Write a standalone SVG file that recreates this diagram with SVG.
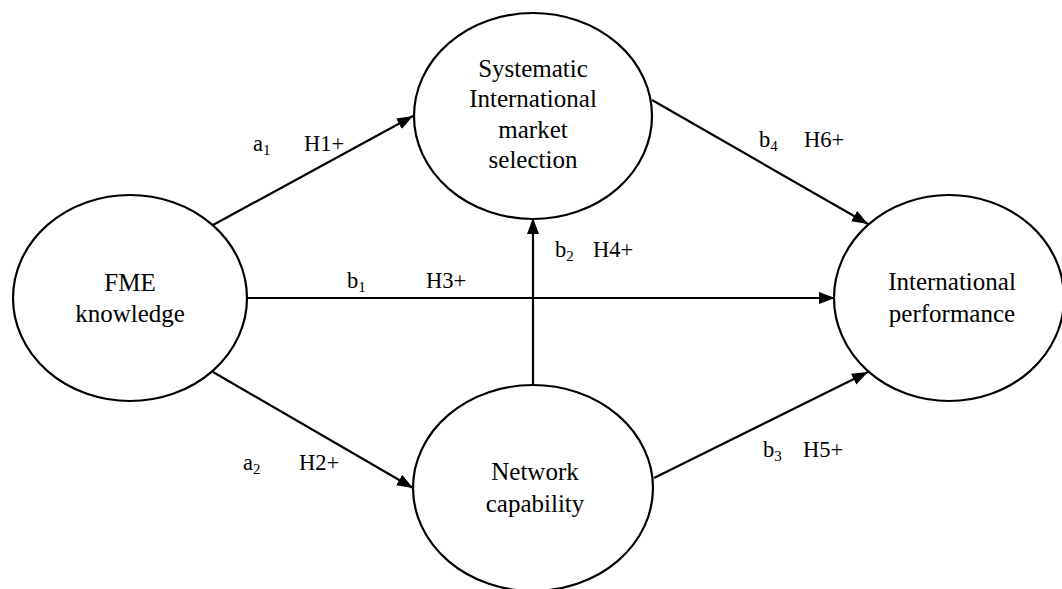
<svg xmlns="http://www.w3.org/2000/svg" width="1062" height="589" viewBox="0 0 1062 589">
<style>
.node{fill:#fff;stroke:#000;stroke-width:2.2}
.t{font-family:"Liberation Serif","Times New Roman",serif;font-size:25px;text-anchor:middle;fill:#000}
.lbl{font-family:"Liberation Serif","Times New Roman",serif;font-size:22.5px;fill:#000}
.sub{font-size:15px}
.edge{stroke:#000;stroke-width:2.2;fill:none;marker-end:url(#arr)}
</style>
<defs>
<marker id="arr" markerUnits="userSpaceOnUse" markerWidth="18" markerHeight="14" refX="16" refY="6" orient="auto">
<path d="M0,0 L16,6 L0,12 Z" fill="#000"/>
</marker>
</defs>
<rect width="1062" height="589" fill="#fff"/>
<g id="connectors">
<line class="edge" x1="213" y1="225" x2="413" y2="116"/>
<line class="edge" x1="213" y1="372" x2="413" y2="488"/>
<line class="edge" x1="248" y1="298" x2="835" y2="298"/>
<line class="edge" x1="533" y1="385" x2="533" y2="218"/>
<line class="edge" x1="652" y1="100" x2="868" y2="224"/>
<line class="edge" x1="654" y1="478" x2="868" y2="372"/>
</g>
<g id="labels">
<text class="lbl" x="253" y="151">a<tspan class="sub" dy="4">1</tspan></text>
<text class="lbl" x="304" y="151">H1+</text>
<text class="lbl" x="243" y="470">a<tspan class="sub" dy="4">2</tspan></text>
<text class="lbl" x="299" y="470">H2+</text>
<text class="lbl" x="347" y="288">b<tspan class="sub" dy="4">1</tspan></text>
<text class="lbl" x="426" y="288">H3+</text>
<text class="lbl" x="555" y="257">b<tspan class="sub" dy="4">2</tspan></text>
<text class="lbl" x="593" y="257">H4+</text>
<text class="lbl" x="763" y="457">b<tspan class="sub" dy="4">3</tspan></text>
<text class="lbl" x="803" y="457">H5+</text>
<text class="lbl" x="759" y="147">b<tspan class="sub" dy="4">4</tspan></text>
<text class="lbl" x="804" y="147">H6+</text>
</g>
<g id="fme">
<ellipse class="node" cx="130" cy="298" rx="117" ry="103"/>
<text class="t" x="130" y="291">FME</text>
<text class="t" x="130" y="322">knowledge</text>
</g>
<g id="sims">
<ellipse class="node" cx="533" cy="116" rx="119" ry="103"/>
<text class="t" x="533" y="77">Systematic</text>
<text class="t" x="533" y="107">International</text>
<text class="t" x="533" y="138">market</text>
<text class="t" x="533" y="168">selection</text>
</g>
<g id="network">
<ellipse class="node" cx="533" cy="488" rx="120" ry="103"/>
<text class="t" x="535" y="480">Network</text>
<text class="t" x="535" y="512">capability</text>
</g>
<g id="performance">
<ellipse class="node" cx="949" cy="298" rx="115" ry="103"/>
<text class="t" x="952" y="290">International</text>
<text class="t" x="952" y="322">performance</text>
</g>
</svg>
